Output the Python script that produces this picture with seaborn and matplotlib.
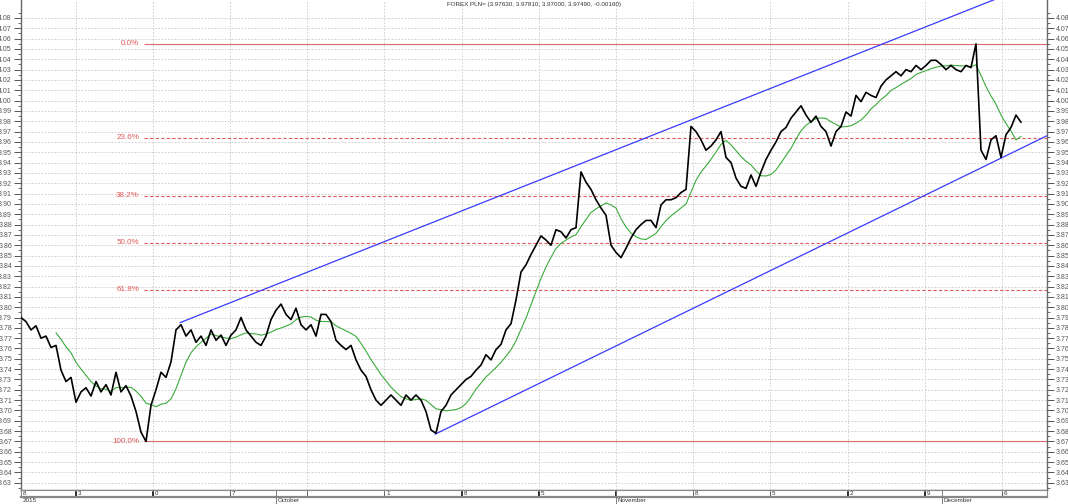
import matplotlib
matplotlib.use("Agg")
import matplotlib.pyplot as plt
import numpy as np
import pandas as pd
import seaborn as sns

# 8-hour closes (USD/PLN, Sep - Dec 2015)
price = [
    3.790, 3.786, 3.778, 3.782, 3.770, 3.772, 3.761, 3.763, 3.739, 3.728,
    3.732, 3.708, 3.718, 3.722, 3.714, 3.728, 3.718, 3.725, 3.715, 3.737,
    3.718, 3.724, 3.714, 3.699, 3.679, 3.670, 3.705, 3.720, 3.737, 3.732,
    3.747, 3.778, 3.783, 3.772, 3.778, 3.766, 3.772, 3.763, 3.778, 3.768,
    3.773, 3.763, 3.773, 3.778, 3.790, 3.778, 3.772, 3.766, 3.763, 3.772,
    3.788, 3.797, 3.803, 3.793, 3.788, 3.799, 3.783, 3.778, 3.783, 3.772,
    3.793, 3.793, 3.786, 3.768, 3.763, 3.759, 3.763, 3.749, 3.739, 3.733,
    3.720, 3.710, 3.705, 3.710, 3.715, 3.710, 3.705, 3.715, 3.710, 3.715,
    3.710, 3.699, 3.681, 3.678, 3.699, 3.705, 3.715, 3.720, 3.725, 3.730,
    3.733, 3.739, 3.744, 3.754, 3.749, 3.759, 3.764, 3.778, 3.784, 3.807,
    3.834, 3.841, 3.851, 3.860, 3.869, 3.865, 3.860, 3.875, 3.873, 3.867,
    3.875, 3.877, 3.931, 3.921, 3.914, 3.904, 3.896, 3.889, 3.860, 3.853,
    3.848, 3.857, 3.867, 3.875, 3.880, 3.884, 3.884, 3.877, 3.899, 3.904,
    3.904, 3.906, 3.911, 3.914, 3.975, 3.970, 3.962, 3.952, 3.956, 3.962,
    3.970, 3.945, 3.940, 3.925, 3.917, 3.915, 3.928, 3.917, 3.931, 3.943,
    3.952, 3.960, 3.970, 3.974, 3.983, 3.989, 3.995, 3.986, 3.979, 3.985,
    3.975, 3.970, 3.956, 3.970, 3.975, 3.989, 3.985, 4.005, 3.999, 4.008,
    4.005, 4.003, 4.014, 4.020, 4.024, 4.028, 4.024, 4.030, 4.028, 4.034,
    4.030, 4.034, 4.039, 4.039, 4.035, 4.030, 4.034, 4.030, 4.028, 4.034,
    4.032, 4.055, 3.952, 3.943, 3.962, 3.966, 3.945, 3.967, 3.974, 3.986,
    3.979,
]
ma_window = 8

fib_ratios = [0.0, 0.236, 0.382, 0.5, 0.618, 1.0]
fib_labels = ["0.0%", "23.6%", "38.2%", "50.0%", "61.8%", "100.0%"]

# trend channel anchors (bar index, price)
upper_x = [31.8, 205.2]
upper_y = [3.785, 4.118]
lower_x = [82.8, 205.2]
lower_y = [3.677, 3.966]

week_x = [10.9, 26.3, 41.8, 57.2, 72.6, 88.1, 103.5, 118.9, 134.4, 149.8,
          165.3, 180.7, 196.2]
week_labels = ["3", "0", "7", "", "1", "8", "5", "", "8", "5", "2", "9", "6"]
month_x = [0.0, 51.0, 118.9, 184.1]
month_labels = ["2015", "October", "November", "December"]

title = "FOREX PLN= (3.97630, 3.97810, 3.97000, 3.97490, -0.00160)"
y_ticks = np.round(np.arange(3.63, 4.0801, 0.01), 2)


def main():
    sns.set_style("white")
    plt.rcParams['font.family'] = ['Liberation Sans', 'DejaVu Sans']

    W, H = 1068, 504
    fig = plt.figure(figsize=(W / 100, H / 100), dpi=100)
    ax = fig.add_axes([21 / W, 14 / H, 1026 / W, 490 / H])

    df = pd.DataFrame({"bar": np.arange(len(price)), "close": price})
    df["ma"] = df["close"].rolling(ma_window).mean()

    grid_kw = dict(color="#c8c8c8", linewidth=0.6, linestyle=(0, (2, 2)))
    for y in y_ticks:
        ax.axhline(y, zorder=0, **grid_kw)
    for x in week_x:
        ax.axvline(x, zorder=0, **grid_kw)

    # fibonacci retracement from the low to the high
    hi, lo = df["close"].max(), df["close"].min()
    x0 = df["close"].idxmin() - 0.5
    fib_red = "#e35a5a"
    for r, lab in zip(fib_ratios, fib_labels):
        lvl = hi - r * (hi - lo)
        if r in (0.0, 1.0):
            ax.hlines(lvl, x0, 205.2, color="#d86a6a", linewidth=0.8, zorder=1)
        else:
            ax.hlines(lvl, x0, 205.2, color=fib_red, linewidth=0.8,
                      linestyle=(0, (3, 2)), zorder=1)
        ax.text(x0 - 0.9, lvl, lab, ha="right", va="center", color=fib_red, fontsize=5.8)

    ax.plot(upper_x, upper_y, color="#3a3aff", linewidth=0.9, zorder=2)
    ax.plot(lower_x, lower_y, color="#3a3aff", linewidth=0.9, zorder=2)

    sns.lineplot(data=df, x="bar", y="ma", color="#3aaa3a", linewidth=0.8, ax=ax, zorder=3)
    sns.lineplot(data=df, x="bar", y="close", color="black", linewidth=1.2, ax=ax, zorder=4)

    ax.set_xlim(0, 205.2)
    ax.set_ylim(3.623, 4.0974)
    ax.set_xlabel("")
    ax.set_ylabel("")
    ax.set_xticks([])
    ax.set_yticks(y_ticks)
    ax.set_yticklabels([f"{v:.2f}" for v in y_ticks])
    ax.set_yticks(np.round(np.arange(3.625, 4.09, 0.01), 3), minor=True)
    ax.tick_params(axis="y", which="both", left=True, right=True, labelleft=True,
                   labelright=True, direction="out", colors="#555555", labelsize=5, pad=1.5)
    ax.tick_params(axis="y", which="major", length=5, width=0.7)
    ax.tick_params(axis="y", which="minor", length=2.5, width=0.6)
    ax.spines["top"].set_visible(False)
    for s in ("left", "right", "bottom"):
        ax.spines[s].set_color("#666666")
        ax.spines[s].set_linewidth(1.0)

    ax.text(0.5, 1 - 4.5 / 490, title, transform=ax.transAxes, ha="center", va="center",
            fontsize=4.5, color="#333333")

    # date strip under the chart
    strip = fig.add_axes([21 / W, 7 / H, 1026 / W, 7 / H], sharex=ax)
    strip.set_ylim(0, 1)
    strip.bar(week_x, 1, width=0.55, color="black", align="center")
    strip.text(0.3, 0.45, "8", va="center", fontsize=4.5, color="#333333")
    for x, lab in zip(week_x, week_labels):
        strip.text(x + 0.4, 0.45, lab, va="center", fontsize=4.5, color="#333333")
    for x in month_x[1:]:
        strip.axvline(x, color="#666666", linewidth=0.6)
    strip.set_xticks([])
    strip.set_yticks([])
    for s in strip.spines.values():
        s.set_color("#888888")
        s.set_linewidth(0.8)
    strip.spines["bottom"].set_linewidth(1.6)

    months = fig.add_axes([21 / W, 0, 1026 / W, 7 / H], sharex=ax)
    months.set_ylim(0, 1)
    months.axis("off")
    for x, lab in zip(month_x, month_labels):
        if x > 0:
            months.axvline(x, color="#666666", linewidth=0.6)
        months.text(x + 0.3, 0.45, lab, va="center", fontsize=4.5, color="#333333")

    fig.savefig("out.png", dpi=100)


if __name__ == '__main__':
    main()
